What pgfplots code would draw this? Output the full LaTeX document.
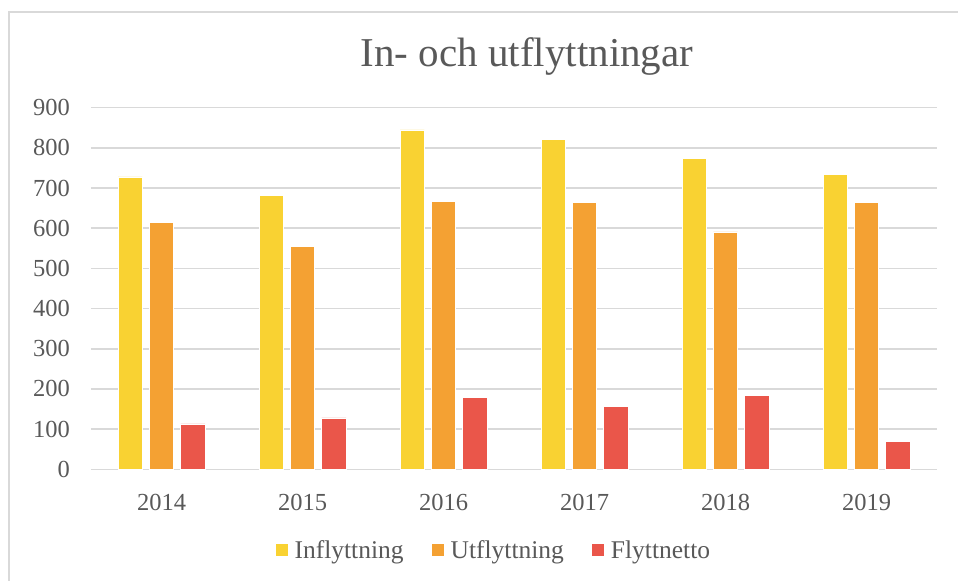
\documentclass[border=0pt]{standalone}
\usepackage{fontspec}
\setmainfont{Liberation Serif}
\usepackage{pgfplots}
\pgfplotsset{compat=1.18}
\definecolor{infl}{RGB}{249,210,50}
\definecolor{utfl}{RGB}{244,161,51}
\definecolor{netto}{RGB}{234,86,74}
\definecolor{txtgray}{RGB}{89,89,89}
\definecolor{gridgray}{RGB}{217,217,217}

\begin{document}
\begin{tikzpicture}
  \begin{axis}[
    at={(91bp,-469.3bp)}, anchor=south west,
    width=846bp, height=361.6bp, scale only axis,
    ybar=6.9bp, bar width=24.4bp,
    xmin=-0.5, xmax=5.5,
    ymin=0, ymax=900,
    xtick=data,
    xticklabels={2014,2015,2016,2017,2018,2019},
    ytick={0,100,...,900},
    axis line style={draw=none},
    major tick length=0pt,
    ymajorgrids, grid style={gridgray, line width=1.5bp},
    tick label style={font=\fontsize{24.5bp}{28bp}\selectfont, text=txtgray},
    /pgf/number format/assume math mode=true,
    yticklabel style={inner sep=0pt, anchor=east, xshift=-21bp},
    xticklabel style={inner sep=0pt, anchor=north, yshift=-25bp},
    legend columns=3,
    legend style={at={(0.475,-0.223)}, anchor=center, draw=none,
      font=\fontsize{25.5bp}{29bp}\selectfont, text=txtgray,
      nodes={inner xsep=0bp, inner ysep=0pt},
      /tikz/every odd column/.append style={column sep=7bp},
      /tikz/every even column/.append style={column sep=28bp}},
    legend image code/.code={\fill[#1,draw=none] (0bp,-6bp) rectangle (12bp,6bp);},
    clip=false,
  ]
    \addplot[fill=infl, draw=white, line width=0.6bp] coordinates {
      (0,728) (1,682) (2,845) (3,822) (4,774) (5,734)};
    \addplot[fill=utfl, draw=white, line width=0.6bp] coordinates {
      (0,615) (1,554) (2,667) (3,665) (4,591) (5,664)};
    \addplot[fill=netto, draw=white, line width=0.6bp] coordinates {
      (0,113) (1,128) (2,178) (3,157) (4,183) (5,70)};
    \legend{Inflyttning,Utflyttning,Flyttnetto}
  \end{axis}
  \node[text=txtgray, font=\fontsize{41bp}{47bp}\selectfont] at (527bp,-56bp) {In- och utflyttningar};
  \draw[gridgray, line width=1.2bp] (9bp,-12bp) rectangle (1000bp,-620bp);
  \pgfresetboundingbox
  \useasboundingbox (0,0) rectangle (958bp,-581bp);
\end{tikzpicture}
\end{document}
